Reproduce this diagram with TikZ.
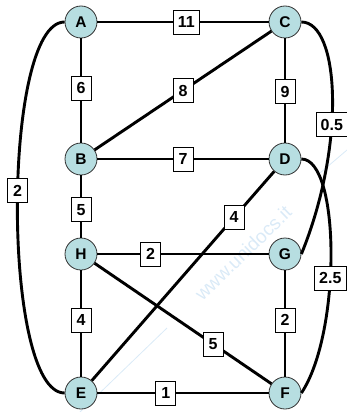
\documentclass[tikz,border=0pt]{standalone}
\usepackage{fontspec}
\setmainfont{Liberation Sans}
\usepackage{tikz}
\usetikzlibrary{positioning,calc}
\definecolor{nodefill}{RGB}{183,222,225}
\definecolor{markblue}{RGB}{218,234,247}

\begin{document}
\begin{tikzpicture}[x=1pt,y=-1pt,
                    vertex/.style={circle,draw=black!80,line width=0.8pt,fill=nodefill,
                                   minimum size=32pt,inner sep=0pt,
                                   font=\fontsize{15.5}{18}\selectfont\bfseries},
                    weight/.style={rectangle,draw=black,line width=0.9pt,fill=white,
                                   inner xsep=4.5pt,inner ysep=0pt,minimum height=24pt,minimum width=20pt,
                                   font=\fontsize{16}{19}\selectfont\bfseries},
                    every path/.style={line width=2.9pt}]
            \useasboundingbox (0,0) rectangle (347,412);

            %Watermark
                \draw[markblue,line width=0.8pt] (80,412) -- (167,328);
                \draw[markblue,line width=0.8pt] (320,173) -- (347,150);
                \node[markblue,rotate=44,font=\fontsize{19}{22}\selectfont] (wm) at (243,253) {www.unidocs.it};

            %Nodes
                \node[vertex] (A) at (81,22) {A};
                \node[vertex] (C) at (285,22) {C};
                \node[vertex] (B) at (81,159) {B};
                \node[vertex] (D) at (285,159) {D};
                \node[vertex] (H) at (81,254) {H};
                \node[vertex] (G) at (285,254) {G};
                \node[vertex] (E) at (81,393) {E};
                \node[vertex] (F) at (285,393) {F};

            %Lines
                \draw (A) -- node[weight,pos=0.52] {11} (C);
                \draw (A) -- node[weight,pos=0.48] {6} (B);
                \draw (C) -- node[weight,pos=0.5] {8} (B);
                \draw (C) -- node[weight,pos=0.51] {9} (D);
                \draw (B) -- node[weight,pos=0.5] {7} (D);
                \draw (B) -- node[weight,pos=0.55] {5} (H);
                \draw (D) -- node[weight,pos=0.22] {4} (E);
                \draw (H) -- node[weight,pos=0.31] {2} (G);
                \draw (H) -- node[weight,pos=0.47] {4} (E);
                \draw (H) -- node[weight,pos=0.67] {5} (F);
                \draw (G) -- node[weight,pos=0.47] {2} (F);
                \draw (E) -- node[weight,pos=0.40] {1} (F);

            %Curves
                \draw (A.west) .. controls +(-63,0) and +(-63,0) .. node[weight,pos=0.47] {2} (E.west);
                \draw (C.east) .. controls +(38,0) and +(45,-110) .. node[weight,pos=0.6] {0.5} (G.east);
                \draw (D.east) .. controls +(39,0) and +(40,-60) .. node[weight,pos=0.58] {2.5} (F.east);
            \end{tikzpicture}
\end{document}
